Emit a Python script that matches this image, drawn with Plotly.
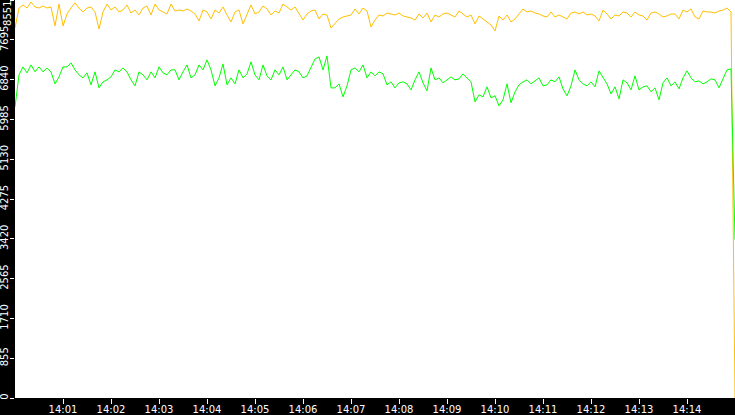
import pandas as pd
import plotly.graph_objects as go

# Sampled every 5 seconds from 14:00:00 to 14:15:00
times = pd.date_range("2024-01-01 14:00:00", periods=181, freq="5s")

orange_values = [
    7950, 8379, 8444, 8379, 8508, 8401, 8379, 8422,
    8379, 8401, 7993, 8465, 7993, 8251, 8379, 8487, 8379, 8294, 8379, 8401, 8294, 7929, 8294, 8465,
    8336, 8401, 8294, 8336, 8444, 8272, 8336, 8229, 8379, 8422, 8229, 8465, 8336,
    8294, 8251, 8465, 8315, 8336, 8315, 8358, 8315, 8251, 8101, 8336, 8294, 8143, 8336, 8272, 8401,
    8229, 8079, 8294, 8336, 8036, 8229, 8444, 8251, 8294, 8422, 8358, 8229, 8315,
    8272, 8465, 8401, 8336, 8401, 8272, 8122, 8251, 8315, 8336, 8143, 8251, 8229, 7950, 8058, 8143,
    8186, 8208, 8229, 8358, 8251, 8379, 8315, 7972, 8122, 8229, 8208, 8272, 8251,
    8229, 8272, 8208, 8186, 8165, 8122, 8251, 8165, 8272, 8079, 8229, 8186, 8251, 8272, 8229, 8186,
    8315, 8251, 8186, 8229, 8036, 8208, 8143, 8079, 8015, 7886, 8208, 8122, 8229,
    8079, 8143, 8251, 8358, 8294, 8315, 8272, 8251, 8208, 8186, 8294, 8186, 8229, 8186, 8143, 8272,
    8294, 8251, 8294, 8229, 8251, 8208, 8101, 8336, 8251, 8143, 8229, 8208, 8294,
    8272, 8186, 8294, 8229, 8208, 8122, 8272, 8294, 8251, 8186, 8208, 8251, 8251, 8143, 8336, 8294,
    8358, 8186, 8143, 8315, 8294, 8294, 8272, 8315, 8336, 8379, 8294,
    0,
]

green_values = [
    6256, 6942, 7114, 6985, 7157, 7007, 7114, 7007,
    7092, 7007, 6749, 6899, 7114, 7114, 7200, 7050, 6942, 6878, 6985, 6728, 7007, 6663, 6792, 6835,
    6899, 7050, 7007, 7092, 7007, 6835, 6706, 7007, 6942, 6835, 7007, 6878, 7114,
    6985, 6942, 7050, 7050, 6835, 7007, 7157, 6878, 6942, 7157, 7050, 7264, 7050, 6706, 6878, 7178,
    6728, 6878, 6749, 7050, 6878, 6964, 7221, 6942, 6835, 7157, 6921, 6835, 7050,
    6942, 7114, 6835, 6942, 7050, 7007, 6878, 6921, 7092, 7285, 7328, 7050, 7350, 6663, 6663, 6749,
    6470, 6706, 7050, 7092, 7007, 7157, 6878, 7007, 6921, 7007, 6964, 6728, 6792,
    6663, 6771, 6792, 6749, 6620, 6835, 7007, 6771, 6599, 7092, 6835, 6878, 6771, 6835, 6899, 6835,
    6857, 6964, 6878, 6792, 6363, 6513, 6470, 6685, 6449, 6492, 6277, 6406, 6749,
    6342, 6578, 6728, 6792, 6835, 6749, 6814, 6878, 6706, 6728, 6835, 6792, 6899, 6642, 6492, 6706,
    7050, 6835, 6749, 6706, 6792, 6685, 7028, 6878, 6749, 6535, 6685, 6427, 6835,
    6771, 6620, 6921, 6620, 6685, 6706, 6578, 6663, 6406, 6771, 6878, 6706, 6792, 6642, 6878, 7028,
    6878, 6792, 6814, 6749, 6792, 6857, 6835, 6663, 6857, 7050, 7071,
    3400,
]

y_ticks = [0, 855, 1710, 2565, 3420, 4275, 5130, 5985, 6840, 7695, 8551]
y_max = y_ticks[-1]
x_tick_labels = ["14:01", "14:02", "14:03", "14:04", "14:05", "14:06", "14:07",
                 "14:08", "14:09", "14:10", "14:11", "14:12", "14:13", "14:14"]
x_tick_vals = ["2024-01-01 " + t + ":00" for t in x_tick_labels]

fig = go.Figure()
fig.add_trace(go.Scatter(x=times, y=orange_values, mode="lines",
                         line=dict(color="#FFC000", width=1), hoverinfo="skip"))
fig.add_trace(go.Scatter(x=times, y=green_values, mode="lines",
                         line=dict(color="#00FF00", width=1), hoverinfo="skip"))

font = dict(family="DejaVu Sans", size=10, color="white")
# the top label sits flush with the top edge, so it is drawn as an annotation
y_text = [str(v) for v in y_ticks[:-1]] + [""]
fig.add_annotation(
    text=str(y_max), xref="paper", yref="paper", x=-0.0105, y=1,
    xanchor="center", yanchor="top", textangle=-90, showarrow=False,
    font=font, borderpad=0,
)

fig.update_layout(
    width=735, height=415,
    margin=dict(l=15, r=0, t=0, b=17, pad=0),
    paper_bgcolor="black", plot_bgcolor="white",
    showlegend=False,
    xaxis=dict(
        range=["2024-01-01 14:00:00", "2024-01-01 14:15:00"],
        tickvals=x_tick_vals, ticktext=x_tick_labels,
        ticks="outside", ticklen=5, tickcolor="white", tickwidth=1,
        ticklabelstandoff=-3,
        tickfont=font, showgrid=False, zeroline=False, showline=False,
        automargin=False, fixedrange=True,
    ),
    yaxis=dict(
        range=[0, y_max],
        tickvals=y_ticks, ticktext=y_text,
        tickangle=-90,
        ticks="outside", ticklen=4, tickcolor="white", tickwidth=1,
        ticklabelstandoff=-2,
        tickfont=font, showgrid=False, zeroline=False, showline=False,
        automargin=False, fixedrange=True,
    ),
)

fig.write_html(
    "out.html",
    config={"displayModeBar": False},
    post_script="document.body.style.margin='0';document.body.style.background='black';",
)
